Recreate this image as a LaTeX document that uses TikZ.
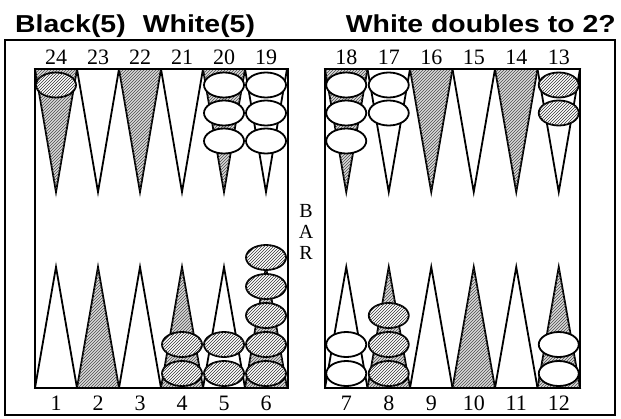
\documentclass[tikz,border=0pt]{standalone}
\usepackage{fontspec}
\setmainfont{Liberation Serif}
\newfontfamily\headfont[FakeStretch=1.16]{Liberation Sans}
\usetikzlibrary{patterns,shapes.geometric}
\begin{document}
\begin{tikzpicture}[x=1pt,y=-1pt,
  checker/.style={ellipse, draw, line width=1.8pt, minimum width=40pt, minimum height=25pt, inner sep=0pt},
  blk/.style={checker, fill=white, postaction={pattern=north east lines, pattern color=black!80}},
  wht/.style={checker, fill=white},
  tri/.style={draw, line width=1.8pt, line join=miter},
  dark/.style={tri, fill=gray!30, postaction={pattern=north east lines, pattern color=black!70}},
  light/.style={tri, fill=white},
  num/.style={font=\fontsize{22}{22}\selectfont, inner sep=0pt},
  barl/.style={font=\fontsize{20}{20}\selectfont, inner sep=0pt},
  head/.style={font=\headfont\bfseries\fontsize{24.5}{24.5}\selectfont, inner sep=0pt},
  board/.style={draw, line width=2.6pt},
  frame/.style={draw, line width=1.8pt}
]
\useasboundingbox (0,0) rectangle (621,418);
% outer frame
\draw[frame] (5,40) rectangle (615,415);
% ---- triangles ----
% left board, top: 24..19 ; bottom: 1..6
\foreach \k in {0,...,5}{
  \pgfmathsetmacro{\xl}{35+42*\k}
  \pgfmathsetmacro{\xr}{35+42*(\k+1)}
  \pgfmathsetmacro{\xc}{35+42*(\k+0.5)}
  \pgfmathtruncatemacro{\odd}{mod(\k,2)}
  \ifnum\odd=0
    \path[dark] (\xl,69) -- (\xc,192) -- (\xr,69) -- cycle;
    \path[light] (\xl,388) -- (\xc,267) -- (\xr,388) -- cycle;
  \else
    \path[light] (\xl,69) -- (\xc,192) -- (\xr,69) -- cycle;
    \path[dark] (\xl,388) -- (\xc,267) -- (\xr,388) -- cycle;
  \fi
}
% right board, top: 18..13 ; bottom: 7..12
\foreach \k in {0,...,5}{
  \pgfmathsetmacro{\xl}{325+42.5*\k}
  \pgfmathsetmacro{\xr}{325+42.5*(\k+1)}
  \pgfmathsetmacro{\xc}{325+42.5*(\k+0.5)}
  \pgfmathtruncatemacro{\odd}{mod(\k,2)}
  \ifnum\odd=0
    \path[dark] (\xl,69) -- (\xc,192) -- (\xr,69) -- cycle;
    \path[light] (\xl,388) -- (\xc,267) -- (\xr,388) -- cycle;
  \else
    \path[light] (\xl,69) -- (\xc,192) -- (\xr,69) -- cycle;
    \path[dark] (\xl,388) -- (\xc,267) -- (\xr,388) -- cycle;
  \fi
}
% ---- checkers ----
% point 24: 1 black
\node[blk] (c24a) at (56,85) {};
% point 20: 3 white
\node[wht] (c20a) at (224,85) {};
\node[wht] (c20b) at (224,113) {};
\node[wht] (c20c) at (224,141) {};
% point 19: 3 white
\node[wht] (c19a) at (266,85) {};
\node[wht] (c19b) at (266,113) {};
\node[wht] (c19c) at (266,141) {};
% point 18: 3 white
\node[wht] (c18a) at (346.25,85) {};
\node[wht] (c18b) at (346.25,113) {};
\node[wht] (c18c) at (346.25,141) {};
% point 17: 2 white
\node[wht] (c17a) at (388.75,85) {};
\node[wht] (c17b) at (388.75,113) {};
% point 13: 2 black
\node[blk] (c13a) at (558.75,85) {};
\node[blk] (c13b) at (558.75,113) {};
% point 4: 2 black
\node[blk] (c4a) at (182,373.5) {};
\node[blk] (c4b) at (182,344.5) {};
% point 5: 2 black
\node[blk] (c5a) at (224,373.5) {};
\node[blk] (c5b) at (224,344.5) {};
% point 6: 5 black
\node[blk] (c6a) at (266,373.5) {};
\node[blk] (c6b) at (266,344.5) {};
\node[blk] (c6c) at (266,315.5) {};
\node[blk] (c6d) at (266,286.5) {};
\node[blk] (c6e) at (266,257.5) {};
% point 7: 2 white
\node[wht] (c7a) at (346.25,373.5) {};
\node[wht] (c7b) at (346.25,344.5) {};
% point 8: 3 black
\node[blk] (c8a) at (388.75,373.5) {};
\node[blk] (c8b) at (388.75,344.5) {};
\node[blk] (c8c) at (388.75,315.5) {};
% point 12: 2 white
\node[wht] (c12a) at (558.75,373.5) {};
\node[wht] (c12b) at (558.75,344.5) {};
% ---- boards ----
\draw[board] (35,69) rectangle (288,388);
\draw[board] (325,69) rectangle (580,388);
% ---- point numbers ----
\foreach \n [count=\k from 0] in {24,23,22,21,20,19}{
  \node[num] (n\n) at ({35+42*(\k+0.5)},57) {\n};
}
\foreach \n [count=\k from 0] in {1,2,3,4,5,6}{
  \node[num] (n\n) at ({35+42*(\k+0.5)},403) {\n};
}
\foreach \n [count=\k from 0] in {18,17,16,15,14,13}{
  \node[num] (n\n) at ({325+42.5*(\k+0.5)},57) {\n};
}
\foreach \n [count=\k from 0] in {7,8,9,10,11,12}{
  \node[num] (n\n) at ({325+42.5*(\k+0.5)},403) {\n};
}
% ---- BAR ----
\node[barl] (barB) at (306,211) {B};
\node[barl] (barA) at (306,232) {A};
\node[barl] (barR) at (306,253) {R};
% ---- titles ----
\node[head, anchor=base west] (t1) at (15,32) {Black(5)\hspace{0.7em}White(5)};
\node[head, anchor=base east] (t2) at (616,32) {White doubles to 2?};
\end{tikzpicture}
\end{document}
